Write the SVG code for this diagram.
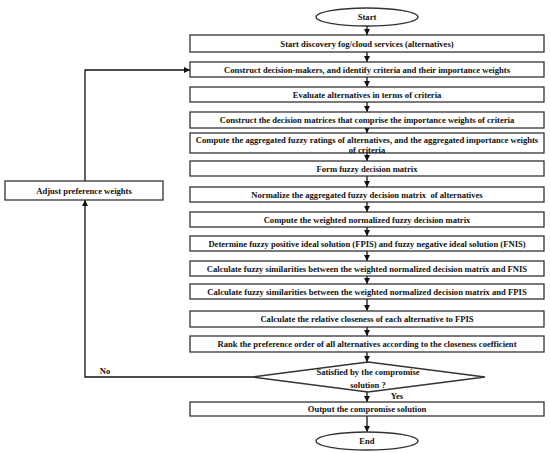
<svg xmlns="http://www.w3.org/2000/svg" width="550" height="453" viewBox="0 0 550 453">
<style>
.box{fill:#fff;stroke:#333;stroke-width:1.3}
.t{font-family:"Liberation Serif","Times New Roman",serif;font-weight:bold;font-size:8.6px;fill:#111;text-anchor:middle;dominant-baseline:central}
.c{fill:none;stroke:#111;stroke-width:1.3}
</style>
<defs>
<marker id="ah" viewBox="0 0 10 10" refX="10" refY="5" markerWidth="6" markerHeight="6" markerUnits="userSpaceOnUse" orient="auto"><path d="M0,0L10,5L0,10z" fill="#111"/></marker>
</defs>
<rect width="550" height="453" fill="#fff"/>
<g id="connectors">
<line class="c" x1="367" y1="26" x2="367" y2="35" marker-end="url(#ah)"/>
<line class="c" x1="367" y1="52" x2="367" y2="62" marker-end="url(#ah)"/>
<line class="c" x1="367" y1="77" x2="367" y2="87" marker-end="url(#ah)"/>
<line class="c" x1="367" y1="102" x2="367" y2="112" marker-end="url(#ah)"/>
<line class="c" x1="367" y1="128" x2="367" y2="133" marker-end="url(#ah)"/>
<line class="c" x1="367" y1="153" x2="367" y2="161" marker-end="url(#ah)"/>
<line class="c" x1="367" y1="176" x2="367" y2="187" marker-end="url(#ah)"/>
<line class="c" x1="367" y1="202" x2="367" y2="212" marker-end="url(#ah)"/>
<line class="c" x1="367" y1="227" x2="367" y2="236" marker-end="url(#ah)"/>
<line class="c" x1="367" y1="251" x2="367" y2="261" marker-end="url(#ah)"/>
<line class="c" x1="367" y1="276" x2="367" y2="284" marker-end="url(#ah)"/>
<line class="c" x1="367" y1="299" x2="367" y2="311" marker-end="url(#ah)"/>
<line class="c" x1="367" y1="327" x2="367" y2="336" marker-end="url(#ah)"/>
<line class="c" x1="367" y1="352" x2="367" y2="362" marker-end="url(#ah)"/>
<line class="c" x1="367" y1="392" x2="367" y2="402" marker-end="url(#ah)"/>
<line class="c" x1="367" y1="416" x2="367" y2="432" marker-end="url(#ah)"/>
<polyline class="c" points="252,377 85,377 85,200" marker-end="url(#ah)"/>
<polyline class="c" points="85,181 85,70 190,70" marker-end="url(#ah)"/>
<text class="t" x="105" y="371">No</text>
<text class="t" x="397" y="396">Yes</text>
</g>
<g id="start"><ellipse class="box" cx="367" cy="17" rx="51" ry="9"/><text class="t" x="367" y="17">Start</text></g>
<g id="n1"><rect class="box" x="190" y="35" width="354" height="17"/><text class="t" x="367" y="43.5">Start discovery fog/cloud services (alternatives)</text></g>
<g id="n2"><rect class="box" x="190" y="62" width="354" height="15"/><text class="t" x="367" y="69.5">Construct decision-makers, and identify criteria and their importance weights</text></g>
<g id="n3"><rect class="box" x="190" y="87" width="354" height="15"/><text class="t" x="367" y="94.5">Evaluate alternatives in terms of criteria</text></g>
<g id="n4"><rect class="box" x="190" y="112" width="354" height="16"/><text class="t" x="367" y="120">Construct the decision matrices that comprise the importance weights of criteria</text></g>
<g id="n5"><rect class="box" x="190" y="133" width="354" height="20"/><text class="t" x="367" y="139.5">Compute the aggregated fuzzy ratings of alternatives, and the aggregated importance weights</text><text class="t" x="367" y="149.5">of criteria</text></g>
<g id="n6"><rect class="box" x="190" y="161" width="354" height="15"/><text class="t" x="367" y="168.5">Form fuzzy decision matrix</text></g>
<g id="n7"><rect class="box" x="190" y="187" width="354" height="15"/><text class="t" x="367" y="194.5" xml:space="preserve">Normalize the aggregated fuzzy decision matrix  of alternatives</text></g>
<g id="n8"><rect class="box" x="190" y="212" width="354" height="15"/><text class="t" x="367" y="219.5">Compute the weighted normalized fuzzy decision matrix</text></g>
<g id="n9"><rect class="box" x="190" y="236" width="354" height="15"/><text class="t" x="367" y="243.5">Determine fuzzy positive ideal solution (FPIS) and fuzzy negative ideal solution (FNIS)</text></g>
<g id="n10"><rect class="box" x="190" y="261" width="354" height="15"/><text class="t" x="367" y="268.5">Calculate fuzzy similarities between the weighted normalized decision matrix and FNIS</text></g>
<g id="n11"><rect class="box" x="190" y="284" width="354" height="15"/><text class="t" x="367" y="291.5">Calculate fuzzy similarities between the weighted normalized decision matrix and FPIS</text></g>
<g id="n12"><rect class="box" x="190" y="311" width="354" height="16"/><text class="t" x="367" y="319">Calculate the relative closeness of each alternative to FPIS</text></g>
<g id="n13"><rect class="box" x="190" y="336" width="354" height="16"/><text class="t" x="367" y="344">Rank the preference order of all alternatives according to the closeness coefficient</text></g>
<g id="decision"><polygon class="box" points="368,362 485,377 368,392 252,377"/><text class="t" x="368" y="372">Satisfied by the compromise</text><text class="t" x="368" y="384.5">solution ?</text></g>
<g id="output"><rect class="box" x="190" y="402" width="354" height="14"/><text class="t" x="367" y="409">Output the compromise solution</text></g>
<g id="end"><ellipse class="box" cx="367" cy="441" rx="51" ry="9"/><text class="t" x="367" y="441">End</text></g>
<g id="adjust"><rect class="box" x="5" y="181" width="158" height="19"/><text class="t" x="84" y="190.5">Adjust preference weights</text></g>
</svg>
